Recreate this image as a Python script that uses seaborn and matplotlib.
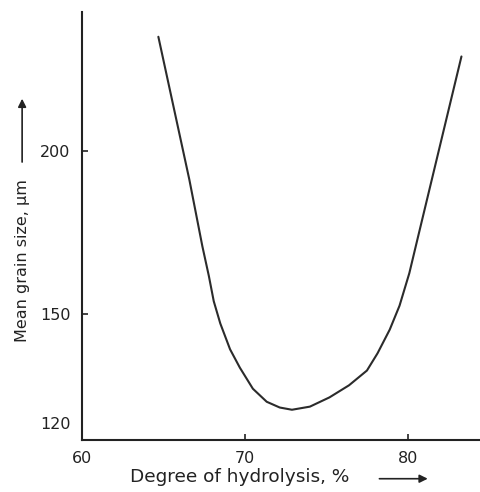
import matplotlib
matplotlib.use("Agg")
import matplotlib.pyplot as plt
import matplotlib.ticker as mticker
import matplotlib.transforms as mtransforms
from matplotlib.patches import FancyArrowPatch
import seaborn as sns

# values (y axis is logarithmic)
hydrolysis = [64.7, 66.6, 67.0, 67.4, 67.8, 68.1, 68.5, 69.1, 69.7, 70.5,
              71.35, 72.15, 72.9, 74.0, 75.2, 76.4, 77.5, 78.15, 78.9,
              79.5, 80.1, 80.6, 83.3]
grain_size = [245, 190.3, 179.4, 169.1, 160.4, 153.4, 147.5, 140.9, 136.4, 131.4,
              128.4, 127.1, 126.6, 127.3, 129.4, 132.2, 135.7, 139.9, 145.9,
              152.2, 161.2, 171.2, 236.6]

x_ticks = [60, 70, 80]
y_ticks = [120, 150, 200]

sns.set_style("ticks")
plt.rcParams["font.family"] = ["DejaVu Sans"]

fig = plt.figure(figsize=(4.81, 4.92), dpi=100)
ax = fig.add_axes([0.170, 0.1057, 0.83, 0.870])

sns.lineplot(x=hydrolysis, y=grain_size, ax=ax, color="#2b2b2b",
             linewidth=1.5, estimator=None, sort=False)

ax.set_yscale("log")
ax.set_xlim(60, 84.5)
ax.set_ylim(120, 256)
ax.set_xticks(x_ticks)
ax.set_yticks(y_ticks)
ax.yaxis.set_major_formatter(mticker.ScalarFormatter())
ax.yaxis.set_minor_locator(mticker.NullLocator())
ax.tick_params(direction="in", length=4, width=1.2, labelsize=11.5,
               colors="#222222", pad=8)

# lift the 120 label off the corner like the original
lbl = ax.get_yticklabels()[0]
lbl.set_transform(lbl.get_transform() +
                  mtransforms.ScaledTranslation(0, 12 / 72, fig.dpi_scale_trans))

for s in ["top", "right"]:
    ax.spines[s].set_visible(False)
for s in ["left", "bottom"]:
    ax.spines[s].set_linewidth(1.5)
    ax.spines[s].set_color("#222222")

ax.set_xlabel("")
ax.set_ylabel("")
fig.text(0.27, 0.012, "Degree of hydrolysis, %", fontsize=13.3, color="#222222",
         ha="left", va="bottom")
fig.text(0.046, 0.47, "Mean grain size, \u00b5m", fontsize=11.5, color="#222222",
         rotation=90, ha="center", va="center")
arrow = dict(arrowstyle="-|>", color="#222222", lw=1.2, mutation_scale=12)
fig.add_artist(FancyArrowPatch((0.783, 0.027), (0.895, 0.027),
                               transform=fig.transFigure, **arrow))
fig.add_artist(FancyArrowPatch((0.046, 0.665), (0.046, 0.805),
                               transform=fig.transFigure, **arrow))

fig.savefig("out.png", dpi=100, facecolor="white")
